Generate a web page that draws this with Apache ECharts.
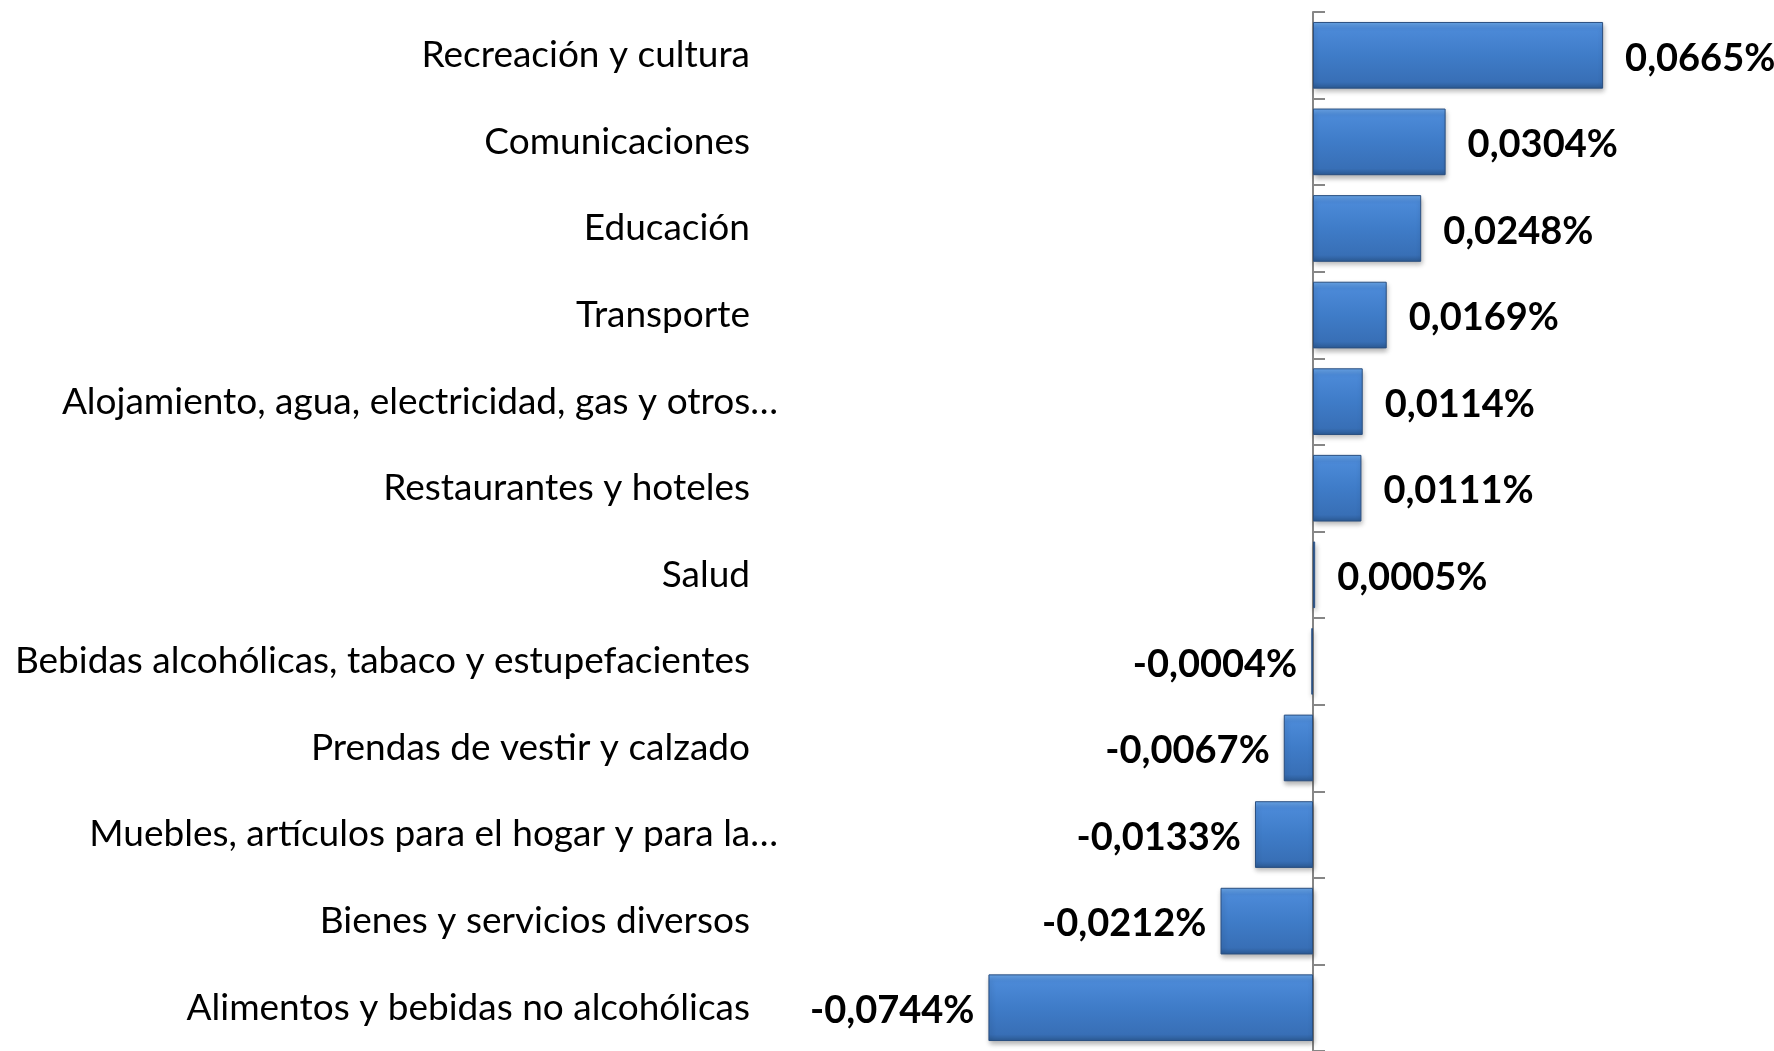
<!DOCTYPE html>
<html>
<head>
<meta charset="utf-8">
<script src="https://cdn.jsdelivr.net/npm/echarts@6/dist/echarts.min.js"></script>
<style>
  html, body { margin: 0; padding: 0; background: #fff; }
  #chart { width: 1774px; height: 1051px; }
</style>
</head>
<body>
<div id="chart"></div>
<script>
  // categorias de arriba hacia abajo
  var categorias = [
    'Recreación y cultura',
    'Comunicaciones',
    'Educación',
    'Transporte',
    'Alojamiento, agua, electricidad, gas y otros…',
    'Restaurantes y hoteles',
    'Salud',
    'Bebidas alcohólicas, tabaco y estupefacientes',
    'Prendas de vestir y calzado',
    'Muebles, artículos para el hogar y para la…',
    'Bienes y servicios diversos',
    'Alimentos y bebidas no alcohólicas'
  ];
  // variacion en %
  var valores = [0.0665, 0.0304, 0.0248, 0.0169, 0.0114, 0.0111, 0.0005, -0.0004, -0.0067, -0.0133, -0.0212, -0.0744];

  var fuente = 'Lato';

  var myChart = echarts.init(document.getElementById('chart'));

  var barra = {
    type: 'linear', x: 0, y: 0, x2: 0, y2: 1,
    colorStops: [
      { offset: 0, color: '#6aa6e8' },
      { offset: 0.1, color: '#4c8ad8' },
      { offset: 0.5, color: '#3f7cc8' },
      { offset: 0.9, color: '#386fb6' },
      { offset: 1, color: '#2b5992' }
    ]
  };

  var option = {
    animation: false,
    grid: { left: 964, right: 112, top: 12, bottom: -5, containLabel: false },
    xAxis: {
      type: 'value',
      min: -0.08,
      max: 0.08,
      show: false
    },
    yAxis: [
      {
        // etiquetas a la izquierda
        type: 'category',
        inverse: true,
        data: categorias,
        axisLine: { show: false, onZero: false },
        axisTick: { show: false },
        axisLabel: {
          margin: 186,
          fontFamily: fuente,
          fontSize: 37,
          color: '#000',
          formatter: function (v) {
            return v.slice(-1) === '…' ? '{t|' + v + '}' : '{n|' + v + '}';
          },
          rich: {
            n: { fontFamily: fuente, fontSize: 37, color: '#000', padding: [0, 28, 0, 0] },
            t: { fontFamily: fuente, fontSize: 37, color: '#000' }
          }
        }
      },
      {
        // linea del eje en cero
        type: 'category',
        inverse: true,
        data: categorias,
        axisLine: { show: true, onZero: true, lineStyle: { color: '#868686', width: 2 } },
        axisTick: { show: true, inside: false, length: 12, lineStyle: { color: '#868686', width: 2 } },
        axisLabel: { show: false }
      }
    ],
    series: [{
      type: 'bar',
      yAxisIndex: 0,
      barCategoryGap: '23%',
      data: valores.map(function (v) {
        return {
          value: v,
          label: { position: v >= 0 ? 'right' : 'left', distance: v >= 0 ? 22 : 14 }
        };
      }),
      itemStyle: {
        color: barra,
        borderColor: '#2a4f80',
        borderWidth: 1,
        shadowBlur: 5,
        shadowOffsetY: 3,
        shadowOffsetX: 1,
        shadowColor: 'rgba(0,0,0,0.3)'
      },
      label: {
        show: true,
        offset: [0, 3],
        fontFamily: fuente,
        fontWeight: 'bold',
        fontSize: 38,
        color: '#000',
        formatter: function (p) {
          return p.value.toFixed(4).replace('.', ',') + '%';
        }
      }
    }]
  };

  myChart.setOption(option);
</script>
</body>
</html>
